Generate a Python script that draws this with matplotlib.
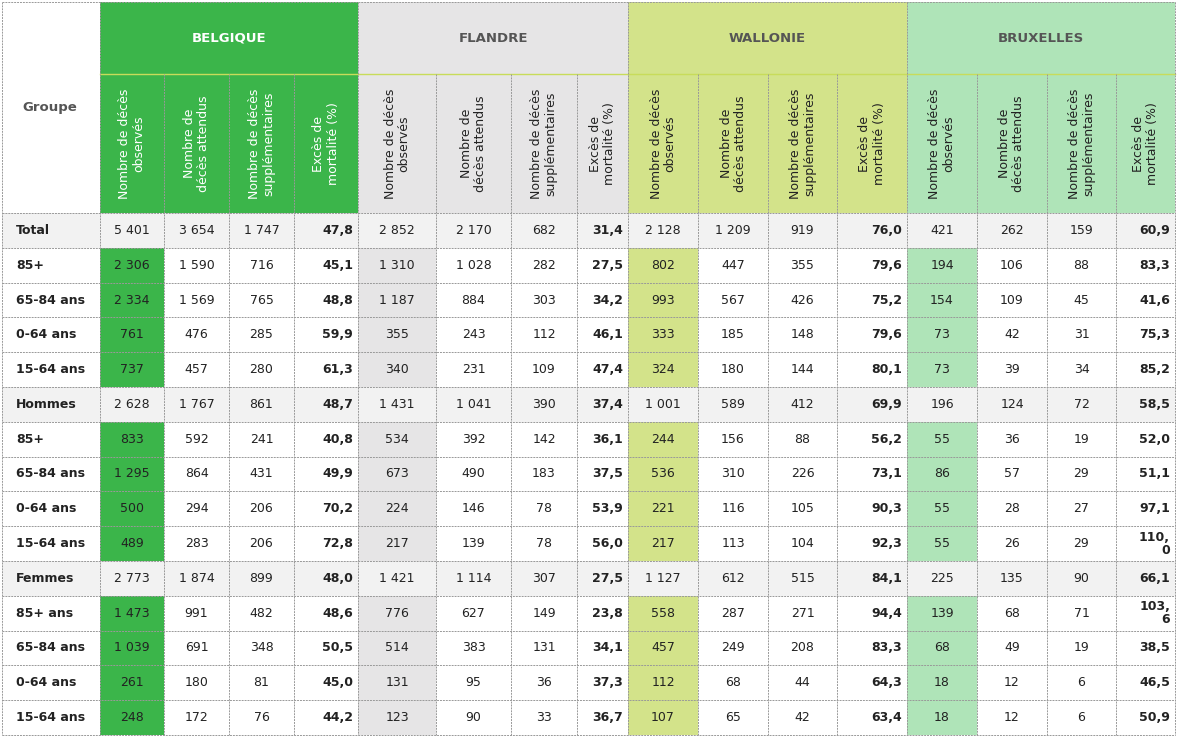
import matplotlib
matplotlib.use("Agg")
import matplotlib.pyplot as plt
from matplotlib.patches import Rectangle

regions = ["BELGIQUE", "FLANDRE", "WALLONIE", "BRUXELLES"]
subheads = ["Nombre de décès\nobservés", "Nombre de\ndécès attendus",
            "Nombre de décès\nsupplémentaires", "Excès de\nmortalité (%)"]
groups = ["Total", "85+", "65-84 ans", "0-64 ans", "15-64 ans",
          "Hommes", "85+", "65-84 ans", "0-64 ans", "15-64 ans",
          "Femmes", "85+ ans", "65-84 ans", "0-64 ans", "15-64 ans"]
belgique = [["5 401","3 654","1 747","47,8"],["2 306","1 590","716","45,1"],["2 334","1 569","765","48,8"],
            ["761","476","285","59,9"],["737","457","280","61,3"],["2 628","1 767","861","48,7"],
            ["833","592","241","40,8"],["1 295","864","431","49,9"],["500","294","206","70,2"],
            ["489","283","206","72,8"],["2 773","1 874","899","48,0"],["1 473","991","482","48,6"],
            ["1 039","691","348","50,5"],["261","180","81","45,0"],["248","172","76","44,2"]]
flandre = [["2 852","2 170","682","31,4"],["1 310","1 028","282","27,5"],["1 187","884","303","34,2"],
           ["355","243","112","46,1"],["340","231","109","47,4"],["1 431","1 041","390","37,4"],
           ["534","392","142","36,1"],["673","490","183","37,5"],["224","146","78","53,9"],
           ["217","139","78","56,0"],["1 421","1 114","307","27,5"],["776","627","149","23,8"],
           ["514","383","131","34,1"],["131","95","36","37,3"],["123","90","33","36,7"]]
wallonie = [["2 128","1 209","919","76,0"],["802","447","355","79,6"],["993","567","426","75,2"],
            ["333","185","148","79,6"],["324","180","144","80,1"],["1 001","589","412","69,9"],
            ["244","156","88","56,2"],["536","310","226","73,1"],["221","116","105","90,3"],
            ["217","113","104","92,3"],["1 127","612","515","84,1"],["558","287","271","94,4"],
            ["457","249","208","83,3"],["112","68","44","64,3"],["107","65","42","63,4"]]
bruxelles = [["421","262","159","60,9"],["194","106","88","83,3"],["154","109","45","41,6"],
             ["73","42","31","75,3"],["73","39","34","85,2"],["196","124","72","58,5"],
             ["55","36","19","52,0"],["86","57","29","51,1"],["55","28","27","97,1"],
             ["55","26","29","110,\n0"],["225","135","90","66,1"],["139","68","71","103,\n6"],
             ["68","49","19","38,5"],["18","12","6","46,5"],["18","12","6","50,9"]]
data = [belgique, flandre, wallonie, bruxelles]

W, H = 1178, 738
fig = plt.figure(figsize=(W/100, H/100), dpi=100)
ax = fig.add_axes([0, 0, 1, 1])
ax.set_xlim(0, W); ax.set_ylim(H, 0); ax.axis("off")

colx = [2, 100, 164, 229, 294, 358, 436, 511, 577, 628, 698, 768, 837, 907, 977, 1047, 1116, 1175]
region_col = ["#3bb54a", "#e6e5e6", "#d3e38a", "#afe4b8"]
head_txt = ["white", "#555555", "#555555", "#555555"]
sub_txt = ["white", "#222222", "#222222", "#222222"]
y0, y1, y2, y3 = 2, 74, 213, 735
rh = (y3 - y2) / len(groups)
grid = "#999999"
dark = "#222222"

# header
for r in range(4):
    xa, xb = colx[1 + 4*r], colx[5 + 4*r]
    ax.add_patch(Rectangle((xa, y0), xb - xa, y2 - y0, color=region_col[r], lw=0))
    ax.text((xa + xb)/2, (y0 + y1)/2, regions[r], ha="center", va="center",
            fontsize=9.5, fontweight="bold", color=head_txt[r])
    for c in range(4):
        xl, xr = colx[1 + 4*r + c], colx[2 + 4*r + c]
        ax.text((xl + xr)/2, (y1 + y2)/2, subheads[c], rotation=90, ha="center", va="center",
                fontsize=9, color=sub_txt[r], linespacing=1.1)
    ax.plot([xa, xb], [y1, y1], color="#c8dc5a" if r else "#c8dc5a", lw=1)
ax.text(50, (y0 + y2)/2, "Groupe", ha="center", va="center", fontsize=9.5,
        fontweight="bold", color="#555555")

# rows
for i, g in enumerate(groups):
    top = y2 + i*rh
    cy = top + rh/2
    total = g in ("Total", "Hommes", "Femmes")
    if total:
        ax.add_patch(Rectangle((colx[0], top), colx[-1] - colx[0], rh, color="#f2f2f2", lw=0))
    ax.text(colx[0] + 14, cy, g, ha="left", va="center", fontsize=9, fontweight="bold", color=dark)
    for r in range(4):
        if not total:
            xl = colx[1 + 4*r]
            ax.add_patch(Rectangle((xl, top), colx[2 + 4*r] - xl, rh, color=region_col[r], lw=0))
        for c in range(4):
            xl, xr = colx[1 + 4*r + c], colx[2 + 4*r + c]
            v = data[r][i][c]
            if c == 3:
                ax.text(xr - 5, cy, v, ha="right", va="center", fontsize=9, fontweight="bold",
                        color=dark, linespacing=1.0)
            else:
                ax.text((xl + xr)/2, cy, v, ha="center", va="center", fontsize=9, color=dark)

# grid lines
for x in colx:
    ax.plot([x, x], [y1 if x not in (colx[0], colx[1], colx[5], colx[9], colx[13], colx[-1]) else y0, y3],
            color=grid, lw=0.7, ls=(0, (2, 1)))
for i in range(len(groups) + 1):
    y = y2 + i*rh
    ax.plot([colx[0], colx[-1]], [y, y], color=grid, lw=0.7, ls=(0, (2, 1)))
ax.plot([colx[0], colx[-1]], [y0, y0], color=grid, lw=0.7, ls=(0, (2, 1)))

fig.savefig("out.png", dpi=100)
